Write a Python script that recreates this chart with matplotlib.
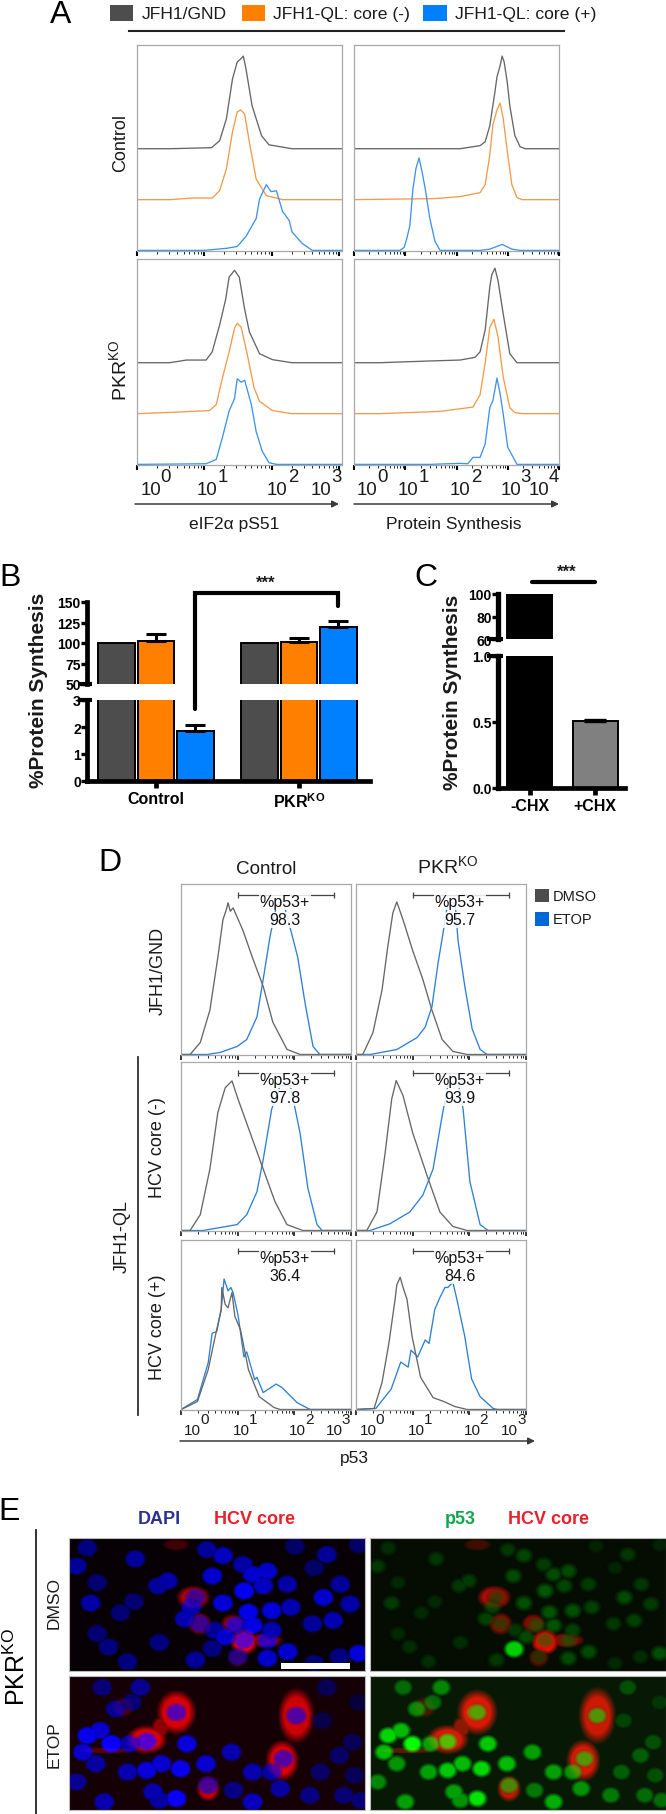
import numpy as np
import matplotlib
matplotlib.use("Agg")
import matplotlib.pyplot as plt
from matplotlib.ticker import LogLocator, NullFormatter

plt.rcParams['font.family'] = ['Liberation Sans', 'DejaVu Sans']
plt.rcParams['mathtext.fontset'] = 'custom'
plt.rcParams['mathtext.rm'] = 'Liberation Sans'
plt.rcParams['mathtext.bf'] = 'Liberation Sans:bold'

# ----------- COLOURS --------------------------------------------------------
GRAY, ORANGE, BLUE = "#4d4d4d", "#ff7f00", "#0080ff"
LINE_GRAY, LINE_ORANGE, LINE_BLUE = "#666666", "#f59a4a", "#3f93ea"
D_BLUE = "#2c80d8"
FRAME = "#a8a8a8"

# ----------- PANEL A: x is log10 intensity, y is % of panel height -----------
a_ce_gray_x = [0.5, 1.11, 1.23, 1.33, 1.42, 1.49, 1.54, 1.58, 1.62, 1.71, 1.85, 1.96, 2.30]
a_ce_gray_y = [0.0, 0.5, 3.9, 14.6, 34.0, 42.2, 43.7, 45.1, 38.8, 20.9, 6.3, 1.9, 0.0]
a_ce_orange_x = [0.5, 0.83, 1.12, 1.23, 1.33, 1.42, 1.49, 1.54, 1.60, 1.67, 1.77, 1.92, 2.16]
a_ce_orange_y = [0.0, 0.8, 0.8, 4.4, 15.0, 33.0, 42.7, 43.7, 41.7, 28.0, 10.0, 2.0, 0.0]
a_ce_blue_x = [1.0, 1.33, 1.49, 1.62, 1.77, 1.82, 1.92, 1.99, 2.07, 2.16, 2.26, 2.30, 2.45, 2.60]
a_ce_blue_y = [0.0, 1.0, 1.9, 6.8, 15.5, 25.0, 32.0, 28.6, 29.0, 19.0, 14.5, 9.0, 3.4, 0.0]

a_cp_gray_x = [1.68, 2.07, 2.46, 2.56, 2.65, 2.75, 2.79, 2.85, 2.89, 2.93, 2.99, 3.04, 3.14, 3.24, 3.34]
a_cp_gray_y = [0.0, 0.0, 1.5, 3.4, 11.2, 27.7, 35.0, 40.3, 45.1, 42.2, 32.5, 20.9, 6.3, 1.0, 0.0]
a_cp_orange_x = [1.54, 1.68, 2.07, 2.46, 2.56, 2.65, 2.71, 2.79, 2.85, 2.91, 2.99, 3.08, 3.18, 3.28]
a_cp_orange_y = [0.5, 0.7, 1.5, 3.4, 7.3, 21.8, 36.4, 43.7, 47.0, 39.8, 23.8, 7.3, 1.0, 0.0]
a_cp_blue_x = [0.90, 0.98, 1.03, 1.09, 1.15, 1.21, 1.27, 1.33, 1.39, 1.48, 1.58, 1.68, 2.46, 2.65, 2.89, 3.08, 3.24]
a_cp_blue_y = [0.0, 1.5, 5.8, 12.0, 30.0, 40.0, 45.0, 38.0, 30.0, 15.5, 4.4, 0.0, 0.0, 0.6, 2.9, 0.6, 0.0]

a_ke_gray_x = [0.49, 0.74, 1.03, 1.12, 1.23, 1.32, 1.37, 1.45, 1.52, 1.60, 1.67, 1.82, 2.01, 2.30]
a_ke_gray_y = [0.0, 1.3, 1.3, 5.3, 18.4, 31.0, 41.7, 45.0, 41.7, 26.0, 15.0, 4.4, 1.5, 0.0]
a_ke_orange_x = [0.49, 1.08, 1.18, 1.27, 1.37, 1.45, 1.49, 1.55, 1.64, 1.74, 1.82, 2.01, 2.30]
a_ke_orange_y = [0.6, 1.5, 4.4, 17.3, 30.0, 41.6, 44.0, 42.0, 28.6, 12.5, 6.0, 1.5, 0.0]
a_ke_blue_x = [1.03, 1.18, 1.27, 1.37, 1.45, 1.49, 1.55, 1.60, 1.70, 1.77, 1.86, 1.96, 2.07]
a_ke_blue_y = [0.3, 2.4, 13.0, 26.0, 32.0, 41.7, 40.0, 41.0, 29.0, 16.0, 6.4, 0.8, 0.0]

a_kp_gray_x = [0.50, 1.42, 1.68, 2.07, 2.36, 2.46, 2.56, 2.65, 2.69, 2.75, 2.81, 2.91, 3.04, 3.18]
a_kp_gray_y = [0.0, 0.8, 1.0, 1.3, 2.6, 5.3, 16.0, 37.0, 43.0, 46.0, 40.0, 24.0, 4.4, 0.0]
a_kp_orange_x = [0.50, 1.68, 2.32, 2.46, 2.56, 2.65, 2.73, 2.81, 2.91, 3.04, 3.14, 3.28]
a_kp_orange_y = [0.0, 1.1, 3.2, 9.2, 24.8, 42.0, 46.0, 37.4, 18.0, 2.9, 0.5, 0.0]
a_kp_blue_x = [1.48, 2.07, 2.22, 2.32, 2.46, 2.56, 2.65, 2.71, 2.79, 2.85, 2.91, 3.00, 3.18]
a_kp_blue_y = [0.0, 0.5, 0.3, 3.4, 3.4, 10.0, 27.7, 31.0, 42.0, 34.5, 24.8, 8.3, 0.0]

# ----------- PANEL D ---------------------------------------------------------
d_c1_gray_x = [0.16, 0.34, 0.51, 0.65, 0.74, 0.80, 0.83, 0.87, 0.92, 1.09, 1.27, 1.45, 1.62, 1.87, 2.10]
d_c1_gray_y = [0.0, 7.0, 26.0, 57.0, 79.0, 85.0, 89.0, 84.0, 86.0, 73.0, 56.0, 40.0, 19.0, 3.0, 0.0]
d_c1_blue_x = [0.46, 0.69, 0.99, 1.16, 1.34, 1.45, 1.57, 1.69, 1.80, 1.96, 2.06, 2.19, 2.33, 2.45]
d_c1_blue_y = [0.0, 1.2, 4.7, 8.8, 22.0, 44.0, 69.0, 88.0, 90.0, 70.0, 57.0, 30.0, 4.7, 0.0]
d_k1_gray_x = [0.12, 0.30, 0.46, 0.56, 0.65, 0.72, 0.83, 1.00, 1.18, 1.34, 1.52, 1.71, 1.96]
d_k1_gray_y = [0.0, 12.9, 38.0, 63.0, 83.0, 89.5, 79.0, 61.0, 44.0, 26.0, 8.8, 1.8, 0.0]
d_k1_blue_x = [0.25, 0.72, 1.08, 1.22, 1.34, 1.45, 1.53, 1.62, 1.75, 1.80, 1.92, 2.05, 2.19, 2.31]
d_k1_blue_y = [0.0, 2.9, 10.0, 16.0, 28.0, 54.0, 70.0, 89.0, 89.0, 67.0, 40.0, 15.0, 3.0, 0.0]

d_c2_gray_x = [0.16, 0.34, 0.51, 0.65, 0.78, 0.90, 1.01, 1.22, 1.45, 1.66, 1.87, 2.15]
d_c2_gray_y = [0.0, 9.4, 36.5, 70.0, 84.7, 88.8, 77.6, 58.0, 36.5, 17.0, 3.5, 0.0]
d_c2_blue_x = [0.39, 0.99, 1.16, 1.34, 1.45, 1.60, 1.75, 1.93, 2.10, 2.24, 2.40, 2.49]
d_c2_blue_y = [0.0, 3.5, 9.4, 23.0, 42.0, 72.0, 86.0, 86.0, 58.0, 25.0, 3.5, 0.0]
d_k2_gray_x = [0.19, 0.37, 0.51, 0.63, 0.71, 0.83, 1.00, 1.25, 1.48, 1.71, 1.96]
d_k2_gray_y = [0.0, 11.0, 45.0, 78.0, 89.0, 80.0, 58.0, 33.0, 11.0, 2.4, 0.0]
d_k2_blue_x = [0.25, 0.60, 0.95, 1.18, 1.36, 1.52, 1.62, 1.80, 1.89, 2.01, 2.19, 2.33]
d_k2_blue_y = [0.0, 4.0, 11.0, 21.0, 36.5, 68.0, 86.0, 88.0, 72.0, 29.0, 3.5, 0.0]

d_c3_gray_x = [0.04, 0.29, 0.48, 0.59, 0.71, 0.72, 0.78, 0.83, 0.90, 0.95, 1.05, 1.19, 1.38, 1.64, 1.75]
d_c3_gray_y = [0.6, 4.7, 23.5, 41.0, 59.0, 72.0, 62.0, 60.0, 69.0, 55.0, 47.0, 23.5, 7.6, 1.2, 0.0]
d_c3_blue_x = [0.00, 0.29, 0.48, 0.55, 0.63, 0.71, 0.76, 0.83, 0.88, 0.92, 1.01, 1.11, 1.16, 1.30, 1.34, 1.45, 1.68, 1.78, 2.05, 2.28]
d_c3_blue_y = [0.0, 5.9, 27.6, 45.0, 46.0, 59.0, 77.0, 70.0, 72.0, 69.0, 55.0, 31.0, 34.0, 17.6, 19.0, 10.0, 15.0, 13.0, 4.0, 0.0]
d_k3_gray_x = [0.32, 0.46, 0.58, 0.69, 0.72, 0.78, 0.83, 0.90, 0.99, 1.14, 1.36, 1.55, 1.74, 1.96]
d_k3_gray_y = [0.6, 16.0, 39.0, 65.0, 73.5, 78.0, 72.0, 65.0, 43.0, 19.0, 7.0, 4.7, 1.8, 0.0]
d_k3_blue_x = [0.35, 0.62, 0.79, 0.92, 0.97, 1.09, 1.22, 1.29, 1.39, 1.48, 1.57, 1.62, 1.71, 1.78, 1.92, 2.04, 2.19, 2.42, 2.49]
d_k3_blue_y = [0.6, 12.0, 28.0, 25.0, 35.0, 31.0, 41.0, 39.0, 59.0, 66.0, 72.0, 72.0, 75.0, 65.0, 43.0, 18.0, 7.6, 0.6, 0.0]

gate_labels = ["98.3", "95.7", "97.8", "93.9", "36.4", "84.6"]

# ----------- PANEL B / C bars ------------------------------------------------
b_groups = ["Control", r"PKR$^{\mathbf{KO}}$"]
b_gnd = [100, 100]
b_core_neg = [102, 101]
b_core_neg_err = [9, 5]
b_core_pos = [1.85, 120]
b_core_pos_err = [0.22, 7]
c_labels = ["-CHX", "+CHX"]
c_values = [100, 0.505]
c_err = [0, 0.012]

# ----------- PANEL E: nuclei and core-positive cells in image units ----------
e1_nuclei = [(205, 745, .5), (180, 800, .6), (228, 850, .45), (318, 778, .6), (213, 912, .65), (283, 942, .45),
             (315, 908, .45), (228, 1005, .45), (255, 1045, .5), (375, 1032, .5), (300, 1090, .5), (395, 845, .65),
             (372, 860, .6), (460, 895, .55), (450, 925, .7), (435, 960, .7), (470, 975, .55), (505, 995, .6),
             (500, 830, .8), (525, 768, .75), (487, 750, .6), (572, 795, .65), (630, 815, .8), (595, 825, .8),
             (575, 875, .95), (620, 860, .75), (677, 855, .65), (525, 912, .85), (585, 940, .9), (640, 935, .85),
             (555, 980, .7), (595, 980, .9), (640, 995, .7), (575, 1025, .75), (530, 1015, .8), (630, 1025, .7),
             (685, 925, .7), (762, 895, .8), (802, 855, .6), (825, 915, .65), (736, 975, .6), (785, 965, .7),
             (770, 765, .6), (740, 805, .4), (695, 740, .4), (500, 1050, .5), (460, 1085, .6), (560, 1075, .5),
             (630, 1080, .8), (678, 1060, .8), (845, 1065, .85), (800, 1075, .5), (740, 1095, .45), (845, 735, .4)]
e1_core = [(455, 895, 42, 38, .7), (470, 975, 30, 36, .6), (575, 1030, 34, 42, 1.0), (625, 1025, 45, 24, .55),
           (548, 975, 30, 32, .55), (560, 1078, 26, 30, .45), (415, 735, 36, 20, .25)]
e1_bright_green = [(502, 1052, .8)]

e2_nuclei = [(205, 1310, .8), (235, 1295, .7), (262, 1335, .95), (272, 1230, .5), (330, 1165, .5), (240, 1165, .4),
             (305, 1335, .6), (345, 1328, .7), (415, 1240, .6), (195, 1360, .7), (300, 1420, .6), (345, 1415, .75),
             (380, 1395, .7), (425, 1410, .8), (485, 1395, .7), (440, 1335, .75), (545, 1360, .6), (415, 1500, .85),
             (245, 1510, .6), (180, 1450, .5), (595, 1420, .6), (640, 1420, .55), (660, 1470, .55), (595, 1510, .65),
             (668, 1380, .55), (698, 1250, .55), (770, 1165, .3), (760, 1265, .25), (845, 1210, .2), (800, 1370, .35),
             (830, 1330, .3), (755, 1420, .35), (835, 1430, .3), (730, 1490, .45), (810, 1490, .4), (490, 1460, .5),
             (360, 1480, .6), (550, 1475, .45), (225, 1395, .55), (375, 1505, .55), (850, 1505, .4), (310, 1210, .4)]
e2_core = [(415, 1240, 50, 72, .85), (345, 1322, 52, 46, .85), (698, 1250, 46, 90, .8), (665, 1385, 42, 66, .85),
           (490, 1470, 30, 42, .75), (378, 1285, 24, 36, .55), (290, 1225, 30, 34, .3), (250, 1355, 78, 10, .35)]
e2_bright_green = [(412, 1240, .5)]


# ----------- HELPERS ----------------------------------------------------------
W, H = 666, 1815
fig = plt.figure(figsize=(W / 100, H / 100), dpi=100)


def ax_px(x0, y0, x1, y1):
    # axes from pixel box, y counted from the top
    return fig.add_axes([x0 / W, 1 - y1 / H, (x1 - x0) / W, (y1 - y0) / H])


def hist_axes(box, decades, tick_w=1.3):
    ax = ax_px(*box)
    ax.set_xscale('log')
    ax.set_xlim(1, 10 ** decades)
    ax.set_ylim(-0.3, 100)
    ax.set_yticks([])
    ax.xaxis.set_major_locator(LogLocator(base=10, numticks=8))
    ax.xaxis.set_minor_locator(LogLocator(base=10, subs=np.arange(2, 10), numticks=8))
    ax.xaxis.set_major_formatter(NullFormatter())
    ax.xaxis.set_minor_formatter(NullFormatter())
    ax.tick_params(which='major', length=3.5, width=tick_w, color='black')
    ax.tick_params(which='minor', length=1.8, width=0.7, color='#222222')
    for s in ax.spines.values():
        s.set_color(FRAME)
        s.set_linewidth(0.9)
    return ax


def hist(ax, xs, ys, color, offset=0.0, decades=3.0):
    x = 10 ** np.r_[0, xs, decades]
    y = np.r_[ys[0] * 0, ys, 0] + offset
    ax.plot(x, y, color=color, lw=0.95, solid_joinstyle='round')


def soft_ellipse(X, Y, cx, cy, rx, ry, edge=0.25):
    r = np.sqrt(((X - cx) / rx) ** 2 + ((Y - cy) / ry) ** 2)
    return np.clip((1 - r) / edge, 0, 1)


def micrograph(box, y_range, nuclei, core, bright, mode, nuc_gain, bg, edge=0.3):
    xs = np.linspace(163, 859, box[2] - box[0])
    ys = np.linspace(y_range[0], y_range[1], box[3] - box[1])
    X, Y = np.meshgrid(xs, ys)
    img = np.zeros(X.shape + (3,)) + np.array(bg)
    for cx, cy, rx, ry, a in core:
        m = soft_ellipse(X, Y, cx, cy, rx, ry, 0.4)
        img[..., 0] = np.maximum(img[..., 0], a * m)
    for cx, cy, b in nuclei:
        m = soft_ellipse(X, Y, cx, cy, 27, 30, edge)
        ch = 2 if mode == 'dapi' else 1
        img[..., ch] = np.maximum(img[..., ch], b * nuc_gain * m)
        img[..., 0] *= 1 - 0.6 * m
    if mode == 'p53':
        for cx, cy, b in bright:
            img[..., 1] = np.maximum(img[..., 1], b * soft_ellipse(X, Y, cx, cy, 27, 30, 0.4))
    ax = ax_px(*box)
    ax.imshow(np.clip(img, 0, 1), aspect='auto', interpolation='bilinear')
    ax.set_xticks([])
    ax.set_yticks([])
    for s in ax.spines.values():
        s.set_color('#bbbbbb')
        s.set_linewidth(0.8)
    return ax


# ----------- PANEL A ----------------------------------------------------------
a_rows = [(46, 252), (260, 466)]
a_cols = [(136.5, 342, 3.04), (354, 559, 4.0)]
OFF_GRAY, OFF_ORANGE = 49.5, 24.7
a_data = [[(a_ce_gray_x, a_ce_gray_y, a_ce_orange_x, a_ce_orange_y, a_ce_blue_x, a_ce_blue_y),
           (a_cp_gray_x, a_cp_gray_y, a_cp_orange_x, a_cp_orange_y, a_cp_blue_x, a_cp_blue_y)],
          [(a_ke_gray_x, a_ke_gray_y, a_ke_orange_x, a_ke_orange_y, a_ke_blue_x, a_ke_blue_y),
           (a_kp_gray_x, a_kp_gray_y, a_kp_orange_x, a_kp_orange_y, a_kp_blue_x, a_kp_blue_y)]]
for r, (y0, y1) in enumerate(a_rows):
    for c, (x0, x1, dec) in enumerate(a_cols):
        ax = hist_axes((x0, y0, x1, y1), dec, tick_w=1.5)
        gx, gy, ox, oy, bx, by = a_data[r][c]
        hist(ax, gx, gy, LINE_GRAY, OFF_GRAY, dec)
        hist(ax, ox, oy, LINE_ORANGE, OFF_ORANGE, dec)
        hist(ax, bx, by, LINE_BLUE, 0, dec)

# ----------- PANEL B ----------------------------------------------------------
b_top = ax_px(87, 603, 370, 685)
b_bot = ax_px(87, 701, 370, 782)
xb = np.arange(len(b_groups))
bar_w, bar_off = 0.255, 0.276
for ax in (b_top, b_bot):
    ax.bar(xb - bar_off, b_gnd, bar_w, color=GRAY, edgecolor='black', lw=1.4)
    ax.bar(xb, b_core_neg, bar_w, color=ORANGE, edgecolor='black', lw=1.4)
    ax.bar(xb + bar_off, b_core_pos, bar_w, color=BLUE, edgecolor='black', lw=1.4)
    ax.errorbar(xb, b_core_neg, yerr=[[0, 0], b_core_neg_err], fmt='none', ecolor='black', elinewidth=2.2,
                capsize=7.5, capthick=2.2)
    ax.errorbar(xb + bar_off, b_core_pos, yerr=[[0, 0], b_core_pos_err], fmt='none', ecolor='black', elinewidth=2.2,
                capsize=7.5, capthick=2.2)
    ax.set_xlim(-0.483, 1.497)
    ax.patch.set_alpha(0)
    ax.tick_params(axis='y', length=4, width=2.4, labelsize=10, pad=0.5)
    for s in ('top', 'right'):
        ax.spines[s].set_visible(False)
    ax.spines['left'].set_linewidth(3.4)
b_top.set_ylim(50, 150)
b_top.set_yticks([50, 75, 100, 125, 150])
b_top.spines['bottom'].set_visible(False)
b_top.set_xticks([])
b_bot.set_ylim(0, 3)
b_bot.set_yticks([0, 1, 2, 3])
b_bot.spines['bottom'].set_linewidth(3.4)
b_bot.set_xticks(xb)
b_bot.set_xticklabels(b_groups, fontsize=11.5, fontweight='bold')
b_bot.tick_params(axis='x', length=5, width=3.4, pad=2.5)
for ax in (b_top, b_bot):
    for lab in ax.get_yticklabels():
        lab.set_fontweight('bold')

# ----------- PANEL C ----------------------------------------------------------
c_top = ax_px(498, 595, 625, 640)
c_bot = ax_px(498, 657, 625, 789)
xc = np.arange(len(c_labels))
c_colors = ['black', '#808080']
for ax in (c_top, c_bot):
    ax.bar(xc, c_values, 0.69, color=c_colors, edgecolor='black', lw=1.4)
    ax.errorbar(xc[1:], c_values[1:], yerr=[[0], c_err[1:]], fmt='none', ecolor='black', elinewidth=2,
                capsize=8, capthick=2.4)
    ax.set_xlim(-0.49, 1.46)
    ax.patch.set_alpha(0)
    ax.tick_params(axis='y', length=4, width=2.4, labelsize=10, pad=0.5)
    for s in ('top', 'right'):
        ax.spines[s].set_visible(False)
    ax.spines['left'].set_linewidth(3.8)
c_top.set_ylim(60, 100)
c_top.set_yticks([60, 80, 100])
c_top.set_xticks([])
c_top.spines['bottom'].set_visible(False)
c_bot.set_ylim(0, 1)
c_bot.set_yticks([0, 0.5, 1])
c_bot.set_yticklabels(["0.0", "0.5", "1.0"])
c_bot.spines['bottom'].set_linewidth(3.4)
c_bot.set_xticks(xc)
c_bot.set_xticklabels(c_labels, fontsize=11.5, fontweight='bold')
c_bot.tick_params(axis='x', length=5, width=3.4, pad=2.5)
for ax in (c_top, c_bot):
    for lab in ax.get_yticklabels():
        lab.set_fontweight('bold')

# ----------- PANEL D ----------------------------------------------------------
d_rows = [(885, 1056), (1063, 1232), (1241, 1411)]
d_cols = [(181, 351), (356, 526)]
d_data = [[(d_c1_gray_x, d_c1_gray_y, d_c1_blue_x, d_c1_blue_y), (d_k1_gray_x, d_k1_gray_y, d_k1_blue_x, d_k1_blue_y)],
          [(d_c2_gray_x, d_c2_gray_y, d_c2_blue_x, d_c2_blue_y), (d_k2_gray_x, d_k2_gray_y, d_k2_blue_x, d_k2_blue_y)],
          [(d_c3_gray_x, d_c3_gray_y, d_c3_blue_x, d_c3_blue_y), (d_k3_gray_x, d_k3_gray_y, d_k3_blue_x, d_k3_blue_y)]]
n = 0
for r, (y0, y1) in enumerate(d_rows):
    for c, (x0, x1) in enumerate(d_cols):
        ax = hist_axes((x0, y0, x1, y1), 3.0, tick_w=1.1)
        gx, gy, bx, by = d_data[r][c]
        hist(ax, bx, by, D_BLUE, 0, 3.0)
        hist(ax, gx, gy, LINE_GRAY, 0, 3.0)
        # gate bracket with its label on top
        ax.plot([10 ** 1.0, 10 ** 2.7], [93.5, 93.5], color='#444444', lw=0.9, marker='|', ms=5, mew=0.9)
        ax.text(0.61, 0.895, "%p53+", transform=ax.transAxes, ha='center', va='center', fontsize=11.5, color='#111111',
                bbox=dict(fc='white', ec='none', alpha=0.85, pad=0.6))
        ax.text(0.61, 0.79, gate_labels[n], transform=ax.transAxes, ha='center', va='center', fontsize=11.5,
                color='#111111', bbox=dict(fc='white', ec='none', alpha=0.85, pad=0.6))
        n += 1

# ----------- PANEL E ----------------------------------------------------------
micrograph((69, 1539, 365, 1672), (716, 1117), e1_nuclei, e1_core, e1_bright_green, 'dapi', 1.0, (.03, 0, .02))
micrograph((370, 1539, 666, 1672), (716, 1117), e1_nuclei, e1_core, e1_bright_green, 'p53', 0.36, (.02, .05, .01), 0.6)
micrograph((69, 1677, 365, 1811), (1132, 1533), e2_nuclei, e2_core, e2_bright_green, 'dapi', 1.15, (.08, 0, .02))
micrograph((370, 1677, 666, 1811), (1132, 1533), e2_nuclei, e2_core, e2_bright_green, 'p53', 1.05, (.03, .1, .02), 0.45)

# ----------- ANNOTATION LAYER, pixel coordinates -------------------------------
ov = fig.add_axes([0, 0, 1, 1], zorder=10)
ov.set_xlim(0, W)
ov.set_ylim(H, 0)
ov.axis('off')


def txt(x, y, s, size=13, **kw):
    kw.setdefault('ha', 'center')
    kw.setdefault('va', 'center')
    kw.setdefault('color', '#1a1a1a')
    ov.text(x, y, s, fontsize=size, **kw)


def arrow(x0, x1, y):
    ov.annotate("", xy=(x1, y), xytext=(x0, y),
                arrowprops=dict(arrowstyle='-|>', color='#3a3a3a', lw=1.1, mutation_scale=10, shrinkA=0, shrinkB=0))


def rect(x0, y0, x1, y1, color):
    ov.fill([x0, x1, x1, x0], [y0, y0, y1, y1], color=color, lw=0)


# panel letters
for lx, ly, s in [(61, 15, "A"), (10, 578, "B"), (426, 578, "C"), (110, 863, "D"), (9, 1512, "E")]:
    txt(lx, ly, s, size=23, color='black')

# legend of A
rect(110, 6, 133, 22, GRAY)
rect(242, 6, 265, 22, ORANGE)
rect(423, 6, 447, 22, BLUE)
txt(142, 14, "JFH1/GND", ha='left', size=12.6)
txt(273, 14, "JFH1-QL: core (-)", ha='left', size=12.6)
txt(455, 14, "JFH1-QL: core (+)", ha='left', size=12.6)
ov.plot([129, 564], [32, 32], color='#222222', lw=1.5)

txt(121, 143, "Control", rotation=90)
txt(120, 370, r"PKR$^{\mathrm{KO}}$", size=14, rotation=90)


def sci_label(x10, xsup, y, ysup, sup, size=13.4):
    txt(x10, y, "10", size=size)
    txt(xsup, ysup, sup, size=size)


for x10, xs, s in [(151, 165.5, "0"), (207, 223, "1"), (277, 293, "2"), (321, 336.5, "3"),
                   (367, 383, "0"), (408, 424, "1"), (460, 476, "2"), (511, 525, "3"), (539, 554, "4")]:
    sci_label(x10, xs, 490, 477, s)
arrow(135, 339, 505)
arrow(354, 559, 505)
txt(234, 524, "eIF2\u03b1 pS51", size=12.5)
txt(454, 524, "Protein Synthesis", size=12.5)

# B and C annotations
txt(39, 690, "%Protein Synthesis", size=15, fontweight='bold', rotation=90)
txt(453, 692, "%Protein Synthesis", size=15, fontweight='bold', rotation=90)
ov.plot([195, 195, 338, 338], [710, 594, 594, 607], color='black', lw=3, solid_joinstyle='miter', solid_capstyle='round')
txt(266, 583, "***", size=12, fontweight='bold')
ov.plot([532, 595], [583, 583], color='black', lw=3, solid_capstyle='round')
txt(567, 572, "***", size=12, fontweight='bold')
# break caps on the y axes
for bx0, bx1, by in [(78, 92, 685), (78, 92, 701), (487, 503, 640), (487, 503, 657)]:
    ov.plot([bx0, bx1], [by, by], color='black', lw=3, solid_capstyle='butt')

# D annotations
txt(266, 869, "Control", size=13.6)
txt(448, 867, r"PKR$^{\mathrm{KO}}$", size=14)
rect(535, 890, 549, 903, GRAY)
rect(535, 913, 549, 927, "#0068d6")
txt(553, 897, "DMSO", ha='left', size=10.5)
txt(553, 920, "ETOP", ha='left', size=10.5)
txt(158, 971, "JFH1/GND", rotation=90, size=13)
txt(158, 1148, "HCV core (-)", rotation=90, size=13)
txt(158, 1327, "HCV core (+)", rotation=90, size=13)
txt(122, 1237, "JFH1-QL", rotation=90, size=13)
ov.plot([138, 138], [1058, 1416], color='#333333', lw=1.3)
for x10, xs, s in [(192, 205, "0"), (241, 253.5, "1"), (297, 309, "2"), (334, 346, "3"),
                   (368, 380, "0"), (416, 428, "1"), (472, 484, "2"), (509, 521.5, "3")]:
    sci_label(x10, xs, 1431, 1420, s, size=11)
arrow(180, 535, 1442)
txt(354, 1458, "p53", size=12.5)

# E annotations
txt(159, 1520, "DAPI", size=13, fontweight='bold', color='#2e3192')
txt(254, 1520, "HCV core", size=13, fontweight='bold', color='#e8202a')
txt(460, 1520, "p53", size=13, fontweight='bold', color='#12a650')
txt(548, 1520, "HCV core", size=13, fontweight='bold', color='#e8202a')
ov.plot([36, 36], [1531, 1815], color='#222222', lw=1.3)
txt(17, 1667, r"PKR$^{\mathrm{KO}}$", size=18, rotation=90, color='black')
txt(54, 1603, "DMSO", size=12.5, rotation=90)
txt(54, 1745, "ETOP", size=12.5, rotation=90)
rect(281, 1664, 350, 1670, 'white')

fig.savefig("out.png", dpi=100)
